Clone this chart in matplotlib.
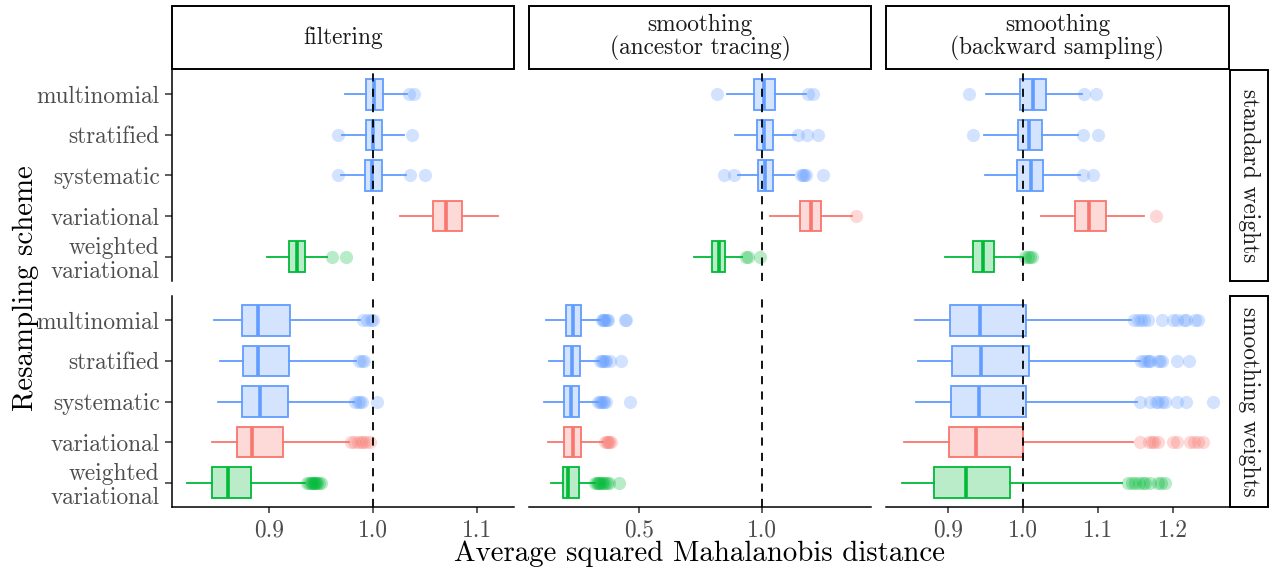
import matplotlib
matplotlib.use("Agg")
import matplotlib.pyplot as plt
from matplotlib.patches import Rectangle
from matplotlib.colors import to_rgba

plt.rcParams["font.family"] = ["cmr10", "DejaVu Serif"]
plt.rcParams["axes.unicode_minus"] = False
plt.rcParams["mathtext.fontset"] = "cm"

schemes = ["multinomial", "stratified", "systematic", "variational", "weighted\nvariational"]
methods = ["filtering", "smoothing\n(ancestor tracing)", "smoothing\n(backward sampling)"]
weightings = ["standard weights", "smoothing weights"]

# five-number summaries per scheme: [whisker low, q1, median, q3, whisker high]
filt_std = [[0.973, 0.9936, 1.001, 1.0099, 1.0327],
            [0.9705, 0.993, 1.0003, 1.009, 1.0298],
            [0.969, 0.9923, 0.9994, 1.009, 1.0314],
            [1.0263, 1.0574, 1.0708, 1.0856, 1.1205],
            [0.898, 0.919, 0.9266, 0.9346, 0.956]]
filt_std_out = [[1.0346, 1.0394],
                [0.966, 1.0378],
                [0.9657, 1.0356, 1.0497],
                [],
                [0.960, 0.974]]

filt_smw = [[0.8465, 0.874, 0.8891, 0.9199, 0.9875],
            [0.852, 0.8744, 0.8894, 0.9186, 0.9833],
            [0.8507, 0.8734, 0.891, 0.918, 0.9817],
            [0.8445, 0.869, 0.883, 0.9135, 0.977],
            [0.8205, 0.8445, 0.860, 0.882, 0.934]]
filt_smw_out = [[0.990, 0.994, 0.998, 1.0004],
                [0.9865, 0.989, 0.9913],
                [0.983, 0.985, 0.987, 0.9897, 1.004],
                [0.9785, 0.982, 0.985, 0.988, 0.990, 0.993, 0.997],
                [0.936, 0.938, 0.940, 0.941, 0.942, 0.943, 0.944, 0.945, 0.946, 0.948, 0.950]]

anc_std = [[0.856, 0.9677, 1.008, 1.051, 1.176],
           [0.888, 0.977, 1.007, 1.043, 1.136],
           [0.900, 0.981, 1.011, 1.042, 1.129],
           [1.032, 1.153, 1.196, 1.239, 1.364],
           [0.722, 0.797, 0.824, 0.848, 0.918]]
anc_std_out = [[0.8173, 1.184, 1.203],
               [1.144, 1.181, 1.227],
               [0.847, 0.887, 1.156, 1.163, 1.170, 1.176, 1.246],
               [1.378],
               [0.934, 0.944, 0.991]]

anc_smw = [[0.125, 0.206, 0.235, 0.2675, 0.343],
           [0.139, 0.200, 0.2285, 0.264, 0.340],
           [0.118, 0.200, 0.2246, 0.259, 0.336],
           [0.134, 0.200, 0.2326, 0.2675, 0.356],
           [0.144, 0.196, 0.215, 0.257, 0.323]]
anc_smw_out = [[0.350, 0.355, 0.360, 0.365, 0.370, 0.375, 0.444, 0.450],
               [0.345, 0.352, 0.357, 0.362, 0.368, 0.385, 0.430],
               [0.336, 0.342, 0.348, 0.355, 0.360, 0.368, 0.464],
               [0.363, 0.370, 0.376, 0.382, 0.390],
               [0.325, 0.330, 0.335, 0.340, 0.345, 0.350, 0.355, 0.362, 0.370, 0.380, 0.419]]

bwd_std = [[0.9507, 0.9964, 1.0129, 1.0307, 1.0782],
           [0.948, 0.9938, 1.008, 1.0253, 1.073],
           [0.949, 0.9924, 1.011, 1.0271, 1.076],
           [1.0236, 1.0693, 1.0876, 1.111, 1.1613],
           [0.896, 0.9333, 0.9462, 0.9613, 0.9996]]
bwd_std_out = [[0.9284, 1.0818, 1.098],
               [0.933, 1.0796, 1.1004],
               [1.080, 1.0938],
               [1.177],
               [1.0027, 1.006, 1.009, 1.012]]

bwd_smw = [[0.856, 0.9027, 0.9427, 1.0036, 1.144],
           [0.8596, 0.9058, 0.9436, 1.008, 1.156],
           [0.8573, 0.9036, 0.9418, 1.0044, 1.1524],
           [0.8413, 0.9013, 0.937, 1.0004, 1.1462],
           [0.8382, 0.8813, 0.924, 0.9827, 1.1316]]
bwd_smw_out = [[1.148, 1.153, 1.158, 1.162, 1.167, 1.185, 1.200, 1.205, 1.215, 1.218, 1.230, 1.233],
               [1.157, 1.162, 1.165, 1.168, 1.170, 1.180, 1.183, 1.186, 1.205, 1.222],
               [1.156, 1.170, 1.177, 1.180, 1.185, 1.190, 1.205, 1.217, 1.2538],
               [1.156, 1.168, 1.172, 1.175, 1.180, 1.200, 1.205, 1.223, 1.228, 1.233, 1.240],
               [1.140, 1.145, 1.150, 1.155, 1.160, 1.163, 1.170, 1.180, 1.184, 1.190]]

panels = [[(filt_std, filt_std_out), (anc_std, anc_std_out), (bwd_std, bwd_std_out)],
          [(filt_smw, filt_smw_out), (anc_smw, anc_smw_out), (bwd_smw, bwd_smw_out)]]

x_limits = [(0.806, 1.136), (0.0565, 1.4395), (0.8173, 1.2747)]
x_ticks = [[0.9, 1.0, 1.1], [0.5, 1.0], [0.9, 1.0, 1.1, 1.2]]

blue, red, green = "#619CFF", "#F8766D", "#00BA38"
scheme_colors = [blue, blue, blue, red, green]

W, H = 1270, 575
fig = plt.figure(figsize=(W / 100, H / 100), dpi=100)

def px_axes(x0, y0, x1, y1, **kw):
    return fig.add_axes([x0 / W, 1 - y1 / H, (x1 - x0) / W, (y1 - y0) / H], **kw)

col_x = [(172, 514), (529, 871), (886, 1229)]
row_y = [(70, 281), (296, 507)]
tick_gray = "#4D4D4D"
tick_size = 16.8

for r in range(2):
    for c in range(3):
        ax = px_axes(col_x[c][0], row_y[r][0], col_x[c][1], row_y[r][1])
        summary, outliers = panels[r][c]
        pos = [5, 4, 3, 2, 1]
        for i in range(5):
            lo, q1, med, q3, hi = summary[i]
            col = scheme_colors[i]
            st = [dict(whislo=lo, q1=q1, med=med, q3=q3, whishi=hi, fliers=outliers[i])]
            ax.bxp(st, positions=[pos[i]], widths=0.75, orientation="horizontal",
                   patch_artist=True, showcaps=False,
                   boxprops=dict(facecolor=to_rgba(col, 0.27), edgecolor=col, linewidth=1.3),
                   whiskerprops=dict(color=col, linewidth=1.3),
                   medianprops=dict(color=col, linewidth=2.6),
                   flierprops=dict(marker="o", markerfacecolor=to_rgba(col, 0.28),
                                   markeredgecolor="none", markersize=9.5))
        ax.axvline(1.0, color="black", linestyle=(0, (4.5, 4)), linewidth=1.3, zorder=10)
        ax.set_xlim(*x_limits[c])
        ax.set_ylim(0.4, 5.6)
        for s in ["top", "right"]:
            ax.spines[s].set_visible(False)
        ax.spines["left"].set_visible(c == 0)
        ax.spines["bottom"].set_visible(r == 1)
        for s in ["left", "bottom"]:
            ax.spines[s].set_linewidth(1.1)
        if c == 0:
            ax.set_yticks(pos)
            ax.set_yticklabels(schemes, fontsize=tick_size, color=tick_gray, linespacing=1.1)
            ax.tick_params(axis="y", length=5, width=1.1, color="#333333", pad=4)
        else:
            ax.set_yticks([])
        if r == 1:
            ax.set_xticks(x_ticks[c])
            ax.set_xticklabels(["%.1f" % t for t in x_ticks[c]], fontsize=tick_size, color=tick_gray)
            ax.tick_params(axis="x", length=4, width=1.1, color="#333333", pad=5)
        else:
            ax.set_xticks([])
        ax.patch.set_alpha(0)

# strips along the top
for c in range(3):
    sa = px_axes(col_x[c][0], 6, col_x[c][1], 69)
    sa.set_axis_off()
    sa.add_patch(Rectangle((0, 0), 1, 1, transform=sa.transAxes, facecolor="white",
                           edgecolor="black", linewidth=1.4, clip_on=False))
    sa.text(0.5, 0.5, methods[c], ha="center", va="center", fontsize=tick_size,
            color="#1A1A1A", linespacing=1.02, transform=sa.transAxes)

# strips along the right side
for r in range(2):
    sa = px_axes(1230, row_y[r][0], 1268, row_y[r][1])
    sa.set_axis_off()
    sa.add_patch(Rectangle((0, 0), 1, 1, transform=sa.transAxes, facecolor="white",
                           edgecolor="black", linewidth=1.4, clip_on=False))
    sa.text(0.5, 0.5, weightings[r], ha="center", va="center", fontsize=tick_size,
            color="#1A1A1A", rotation=-90, transform=sa.transAxes)

fig.text(700 / W, 1 - 554 / H, "Average squared Mahalanobis distance", ha="center",
         va="center", fontsize=20.8)
fig.text(26 / W, 1 - 288 / H, "Resampling scheme", ha="center", va="center",
         fontsize=20.8, rotation=90)

fig.savefig("out.png", dpi=100)
